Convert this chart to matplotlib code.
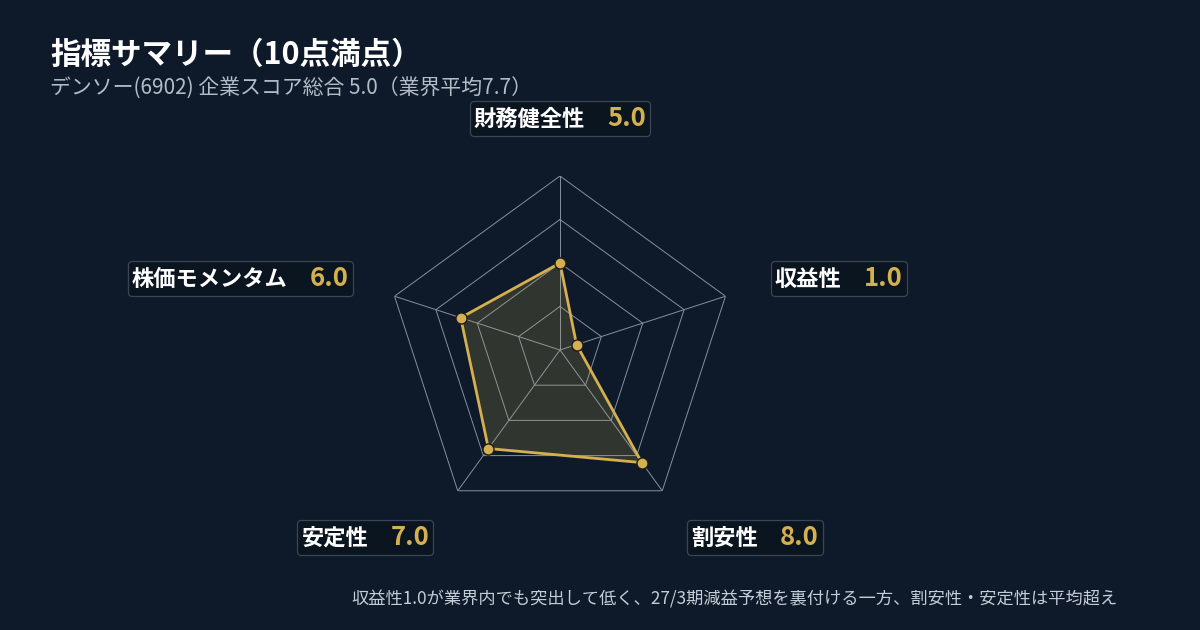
import numpy as np
import matplotlib.pyplot as plt
from matplotlib.offsetbox import TextArea, HPacker, AnnotationBbox

plt.rcParams["font.family"] = ["Noto Sans CJK JP", "DejaVu Sans"]

# data
categories = ["財務健全性", "収益性", "割安性", "安定性", "株価モメンタム"]
scores = [5.0, 1.0, 8.0, 7.0, 6.0]
grid_levels = [2.5, 5.0, 7.5, 10.0]
max_score = 10

title = "指標サマリー（10点満点）"
subtitle = "デンソー(6902) 企業スコア総合 5.0（業界平均7.7）"
footnote = "収益性1.0が業界内でも突出して低く、27/3期減益予想を裏付ける一方、割安性・安定性は平均超え"

bg = "#0e1a2a"
gold = "#d4b050"
grid_c = "#8390a0"

fig = plt.figure(figsize=(12, 6.3), dpi=100, facecolor=bg)

# polar axes centred at (560, 350) px, radius 174 px
cx, cy, r = 560, 350, 174
ax = fig.add_axes([(cx - r) / 1200, 1 - (cy + r) / 630, 2 * r / 1200, 2 * r / 630],
                  projection="polar")
ax.set_facecolor("none")
ax.set_theta_zero_location("N")
ax.set_theta_direction(-1)
ax.set_ylim(0, max_score)
ax.grid(False)
ax.spines["polar"].set_visible(False)
ax.set_xticks([])
ax.set_yticks([])

n = len(categories)
angles = np.linspace(0, 2 * np.pi, n, endpoint=False)
ang_closed = np.append(angles, angles[0])

# pentagon grid
for lv in grid_levels:
    ax.plot(ang_closed, [lv] * (n + 1), color=grid_c, lw=0.7, zorder=1)
for a in angles:
    ax.plot([a, a], [0, max_score], color=grid_c, lw=0.7, zorder=1)

vals = scores + scores[:1]
ax.fill(ang_closed, vals, color=gold, alpha=0.18, zorder=2)
ax.plot(ang_closed, vals, color=gold, lw=2, zorder=3)
ax.plot(angles, scores, "o", color=gold, markersize=8,
        markeredgecolor="#1a1a1a", markeredgewidth=1, zorder=4)

# boxed labels: name + score
label_r = 13.3
for a, cat, s in zip(angles, categories, scores):
    sx = np.sin(a)
    if abs(sx) < 0.1:
        box_align = (0.5, 0.5)
    elif sx > 0:
        box_align = (0.04, 0.5)
    else:
        box_align = (0.96, 0.5)
    t1 = TextArea(cat, textprops=dict(color="white", fontsize=16, fontweight="bold"))
    t2 = TextArea(f"{s:.1f}", textprops=dict(color=gold, fontsize=18.5, fontweight="bold"))
    pack = HPacker(children=[t1, t2], align="baseline", pad=0, sep=16)
    ab = AnnotationBbox(pack, (a, label_r), xycoords="data", box_alignment=box_align,
                        frameon=True, pad=0.3, annotation_clip=False,
                        bboxprops=dict(boxstyle="round,pad=0.3,rounding_size=0.3",
                                       facecolor="#0a1520", edgecolor="#3a4656", lw=0.9))
    ax.add_artist(ab)

fig.text(50 / 1200, 1 - 55 / 630, title, color="white", fontsize=22,
         fontweight="bold", ha="left", va="center")
fig.text(50 / 1200, 1 - 89 / 630, subtitle, color="#b4bcc8", fontsize=15,
         ha="left", va="center")
fig.text(1118 / 1200, 1 - 599 / 630, footnote, color="#c4ccd6", fontsize=12.4,
         ha="right", va="center")

fig.savefig("out.png", dpi=100, facecolor=bg)
